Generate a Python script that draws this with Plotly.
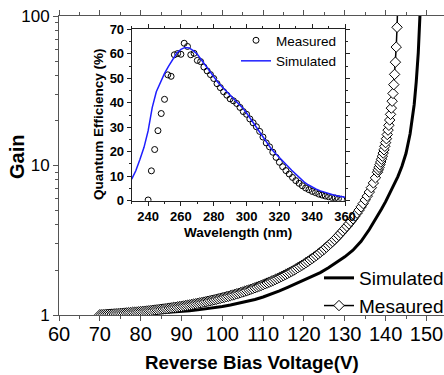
import plotly.graph_objects as go

# ---------------- main panel: gain vs reverse bias ----------------
meas_v = [70, 70.5, 71, 71.5, 72, 72.5, 73, 73.5, 74, 74.5, 75, 75.5, 76, 76.5, 77, 77.5, 78, 78.5, 79, 79.5,
          80, 80.5, 81, 81.5, 82, 82.5, 83, 83.5, 84, 84.5, 85, 85.5, 86, 86.5, 87, 87.5, 88, 88.5, 89, 89.5,
          90, 90.5, 91, 91.5, 92, 92.5, 93, 93.5, 94, 94.5, 95, 95.5, 96, 96.5, 97, 97.5, 98, 98.5, 99, 99.5,
          100, 100.5, 101, 101.5, 102, 102.5, 103, 103.5, 104, 104.5, 105, 105.5, 106, 106.5, 107, 107.5, 108, 108.5, 109, 109.5,
          110, 110.5, 111, 111.5, 112, 112.5, 113, 113.5, 114, 114.5, 115, 115.5, 116, 116.5, 117, 117.5, 118, 118.5, 119, 119.5,
          120, 120.5, 121, 121.5, 122, 122.5, 123, 123.5, 124, 124.5, 125, 125.5, 126, 126.5, 127, 127.5, 128, 128.5, 129, 129.5,
          130, 130.5, 131, 131.5, 132, 132.5, 133, 133.5, 134, 134.5, 135, 135.5, 136, 136.5, 137, 137.5, 138,
          138.2, 138.4, 138.6, 138.8, 139.0, 139.2, 139.4, 139.6, 139.8, 140.0, 140.2, 140.4, 140.6, 140.8,
          141.0, 141.2, 141.4, 141.6, 141.8, 142.0, 142.2, 142.4, 142.6, 142.8, 143.0]
meas_gain = [1.004, 1.005, 1.007, 1.009, 1.011, 1.013, 1.015, 1.018, 1.020, 1.022, 1.025, 1.027, 1.030, 1.033, 1.036, 1.038, 1.041, 1.044, 1.047, 1.051,
             1.054, 1.057, 1.061, 1.064, 1.068, 1.071, 1.076, 1.080, 1.084, 1.088, 1.093, 1.097, 1.102, 1.106, 1.112, 1.116, 1.122, 1.127, 1.132, 1.138,
             1.144, 1.150, 1.156, 1.163, 1.169, 1.176, 1.182, 1.190, 1.197, 1.205, 1.212, 1.220, 1.229, 1.237, 1.246, 1.255, 1.263, 1.273, 1.283, 1.293,
             1.303, 1.314, 1.325, 1.336, 1.348, 1.360, 1.372, 1.385, 1.398, 1.412, 1.426, 1.441, 1.456, 1.471, 1.487, 1.503, 1.521, 1.538, 1.557, 1.576,
             1.596, 1.616, 1.637, 1.659, 1.681, 1.705, 1.729, 1.754, 1.780, 1.808, 1.836, 1.865, 1.896, 1.929, 1.961, 1.996, 2.032, 2.071, 2.109, 2.151,
             2.193, 2.239, 2.286, 2.337, 2.388, 2.443, 2.500, 2.561, 2.625, 2.694, 2.765, 2.841, 2.921, 3.007, 3.096, 3.194, 3.296, 3.408, 3.524, 3.653,
             3.788, 3.923, 4.070, 4.230, 4.403, 4.593, 4.801, 5.029, 5.283, 5.565, 5.881, 6.237, 6.642, 7.106, 7.643, 8.270, 9.016,
             9.356, 9.722, 10.12, 10.55, 11.02, 11.54, 12.11, 12.74, 13.44, 14.22, 15.10, 16.11, 17.25, 18.57,
             20.14, 21.98, 24.20, 26.92, 30.33, 34.75, 40.70, 49.12, 61.98, 84.02, 130.5]

sim_v = [70, 72, 74, 76, 78, 80, 82, 84, 86, 88, 90, 92, 94, 96, 98, 100, 102, 104, 106, 108,
         110, 112, 114, 116, 118, 120, 122, 124, 126, 128, 130, 132, 134, 136, 137, 138, 139,
         140, 141, 142, 143, 144, 145, 146, 146.5, 147, 147.5, 148, 148.5, 149]
sim_gain = [1.000, 1.001, 1.003, 1.006, 1.010, 1.015, 1.021, 1.028, 1.036, 1.045, 1.056, 1.068, 1.082, 1.099, 1.118, 1.140, 1.165, 1.195, 1.230, 1.270,
            1.320, 1.380, 1.450, 1.530, 1.620, 1.710, 1.810, 1.920, 2.070, 2.240, 2.450, 2.710, 3.110, 3.730, 4.120, 4.580, 5.110,
            5.730, 6.460, 7.320, 8.420, 9.890, 12.07, 16.30, 19.90, 25.60, 36.30, 56.90, 114.6, 245.0]

x_ticks = [60, 70, 80, 90, 100, 110, 120, 130, 140, 150]
y_ticks = [1, 10, 100]
y_minor = [2, 3, 4, 5, 6, 7, 8, 9, 20, 30, 40, 50, 60, 70, 80, 90]

# ---------------- inset: quantum efficiency ----------------
qe_meas_wl = [240, 242, 244, 246, 248, 250, 252, 254, 256, 258, 260, 262, 264, 266, 268, 270, 272, 274, 276, 278,
              280, 282, 284, 286, 288, 290, 292, 294, 296, 298, 300, 302, 304, 306, 308, 310, 312, 314, 316, 318,
              320, 322, 324, 326, 328, 330, 332, 334, 336, 338, 340, 342, 344, 346, 348, 350, 352, 354, 356, 358]
qe_meas = [0.3, 12.2, 20.9, 28.6, 35.6, 41.4, 51.4, 50.8, 59.6, 60.1, 59.8, 64.3, 63.0, 59.6, 60.2, 57.3, 56.8, 54.6, 53.0, 51.5,
           49.9, 47.8, 46.2, 44.5, 43.1, 41.6, 40.8, 39.7, 38.1, 36.4, 35.3, 33.4, 31.8, 30.2, 28.3, 26.0, 23.6, 22.0, 19.8, 17.7,
           15.7, 13.9, 12.3, 10.9, 9.5, 8.2, 7.1, 6.1, 5.2, 4.5, 3.8, 3.3, 2.7, 2.3, 1.9, 1.6, 1.3, 1.1, 0.8, 0.6]

qe_sim_wl = [230, 232.5, 235, 237.5, 240, 242.5, 245, 247.5, 250, 252.5, 255, 257.5, 260, 262.5, 265, 267.5, 270, 272.5,
             275, 277.5, 280, 282.5, 285, 287.5, 290, 292.5, 295, 297.5, 300, 302.5, 305, 307.5, 310, 312.5, 315, 317.5,
             320, 322.5, 325, 327.5, 330, 332.5, 335, 337.5, 340, 342.5, 345, 347.5, 350, 352.5, 355, 357.5, 360]
qe_sim = [8.8, 12.2, 16.8, 21.8, 28.5, 38.0, 44.5, 48.5, 52.0, 55.0, 57.8, 60.3, 61.8, 62.6, 62.4, 61.3, 59.8, 57.5,
          54.9, 52.5, 50.4, 48.4, 46.5, 44.8, 43.3, 41.8, 40.1, 38.0, 35.8, 33.4, 30.9, 28.3, 25.8, 23.4, 21.2, 19.4,
          17.8, 16.0, 14.2, 12.4, 10.7, 9.1, 7.7, 6.5, 5.5, 4.7, 4.0, 3.4, 2.9, 2.4, 2.0, 1.7, 1.4]

FONT = "Liberation Sans, Arial, sans-serif"
MAIN_AX = "#555555"
INSET_AX = "#222222"

fig = go.Figure()

fig.add_trace(go.Scatter(
    x=sim_v, y=sim_gain, mode="lines", name="Simulated",
    line=dict(color="black", width=3), xaxis="x", yaxis="y", legend="legend"))
fig.add_trace(go.Scatter(
    x=meas_v, y=meas_gain, mode="lines+markers", name="Mesaured",
    line=dict(color="black", width=1.5),
    marker=dict(symbol="diamond", size=8, color="white", line=dict(color="black", width=1)),
    xaxis="x", yaxis="y", legend="legend"))

fig.add_trace(go.Scatter(
    x=qe_meas_wl, y=qe_meas, mode="markers", name="Measured",
    marker=dict(symbol="circle-open", size=6, color="black", line=dict(width=1)),
    xaxis="x2", yaxis="y2", legend="legend2"))
fig.add_trace(go.Scatter(
    x=qe_sim_wl, y=qe_sim, mode="lines", name="Simulated",
    line=dict(color="rgb(30,30,255)", width=1.5),
    xaxis="x2", yaxis="y2", legend="legend2"))

PL, PT, PW, PH = 59, 16, 385, 299


def px(x):
    return (x - PL) / PW


def py(y):
    return (PT + PH - y) / PH


fig.update_layout(
    width=444, height=375, autosize=False,
    margin=dict(l=PL, r=444 - PL - PW, t=PT, b=375 - PT - PH, autoexpand=False),
    paper_bgcolor="white", plot_bgcolor="white",
    font=dict(family=FONT, color="black"),
    xaxis=dict(
        range=[60, 154.3], tickvals=x_ticks, ticks="outside", ticklen=5, tickwidth=1,
        tickcolor=MAIN_AX, showline=True, linecolor=MAIN_AX, linewidth=1, mirror="ticks",
        showgrid=False, zeroline=False, automargin=False, ticklabelstandoff=-4,
        tickfont=dict(size=20, family=FONT, color="black"),
        minor=dict(dtick=5, tick0=60, ticks="outside", ticklen=3, tickcolor=MAIN_AX, showgrid=False),
    ),
    yaxis=dict(
        type="log", range=[0, 2], tickvals=y_ticks, ticktext=[str(v) for v in y_ticks],
        ticks="outside", ticklen=5, tickwidth=1, tickcolor=MAIN_AX,
        showline=True, linecolor=MAIN_AX, linewidth=1, mirror=False,
        showgrid=False, zeroline=False, automargin=False,
        tickfont=dict(size=17, family=FONT, color="black"),
        minor=dict(tickvals=y_minor, ticks="outside", ticklen=3, tickcolor=MAIN_AX, showgrid=False),
    ),
    xaxis2=dict(
        domain=[px(131.7), px(345)], anchor="y2", range=[230, 360], tick0=240, dtick=20,
        ticks="outside", ticklen=4, tickcolor=INSET_AX, showline=True, linecolor=INSET_AX,
        linewidth=1, mirror="ticks", showgrid=False, zeroline=False, automargin=False,
        tickfont=dict(size=13, family=FONT, weight="bold", color="black"),
        minor=dict(dtick=10, tick0=230, ticks="outside", ticklen=2, tickcolor=INSET_AX, showgrid=False),
    ),
    yaxis2=dict(
        domain=[py(200.7), py(29.3)], anchor="x2", range=[0, 70], tick0=0, dtick=10,
        ticks="outside", ticklen=4, tickcolor=INSET_AX, showline=True, linecolor=INSET_AX,
        linewidth=1, mirror="ticks", showgrid=False, zeroline=False, automargin=False,
        tickfont=dict(size=13, family=FONT, weight="bold", color="black"),
        minor=dict(dtick=5, tick0=0, ticks="outside", ticklen=2, tickcolor=INSET_AX, showgrid=False),
    ),
    legend=dict(
        x=px(319), y=py(259), xanchor="left", yanchor="top",
        bgcolor="rgba(0,0,0,0)", borderwidth=0, tracegroupgap=0,
        font=dict(size=19, family=FONT, color="black"),
    ),
    legend2=dict(
        x=px(236), y=py(25), xanchor="left", yanchor="top",
        bgcolor="rgba(0,0,0,0)", borderwidth=0, tracegroupgap=0,
        font=dict(size=13.5, family=FONT, color="black"),
    ),
    annotations=[
        dict(text="<b>Gain</b>", xref="paper", yref="paper", x=px(17), y=py(157),
             xanchor="center", yanchor="middle", textangle=-90, showarrow=False,
             font=dict(size=20, family=FONT, color="black")),
        dict(text="<b>Reverse Bias Voltage(V)</b>", xref="paper", yref="paper", x=px(252), y=py(363),
             xanchor="center", yanchor="middle", showarrow=False,
             font=dict(size=18.7, family=FONT, color="black")),
        dict(text="<b>Quantum Efficiency (%)</b>", xref="paper", yref="paper", x=px(98), y=py(124),
             xanchor="center", yanchor="middle", textangle=-90, showarrow=False,
             font=dict(size=13.5, family=FONT, color="black")),
        dict(text="<b>Wavelength (nm)</b>", xref="paper", yref="paper", x=px(238), y=py(232),
             xanchor="center", yanchor="middle", showarrow=False,
             font=dict(size=13.5, family=FONT, color="black")),
    ],
)

fig.write_html("out.html", config={"displayModeBar": False},
               post_script="document.body.style.margin='0px';")
